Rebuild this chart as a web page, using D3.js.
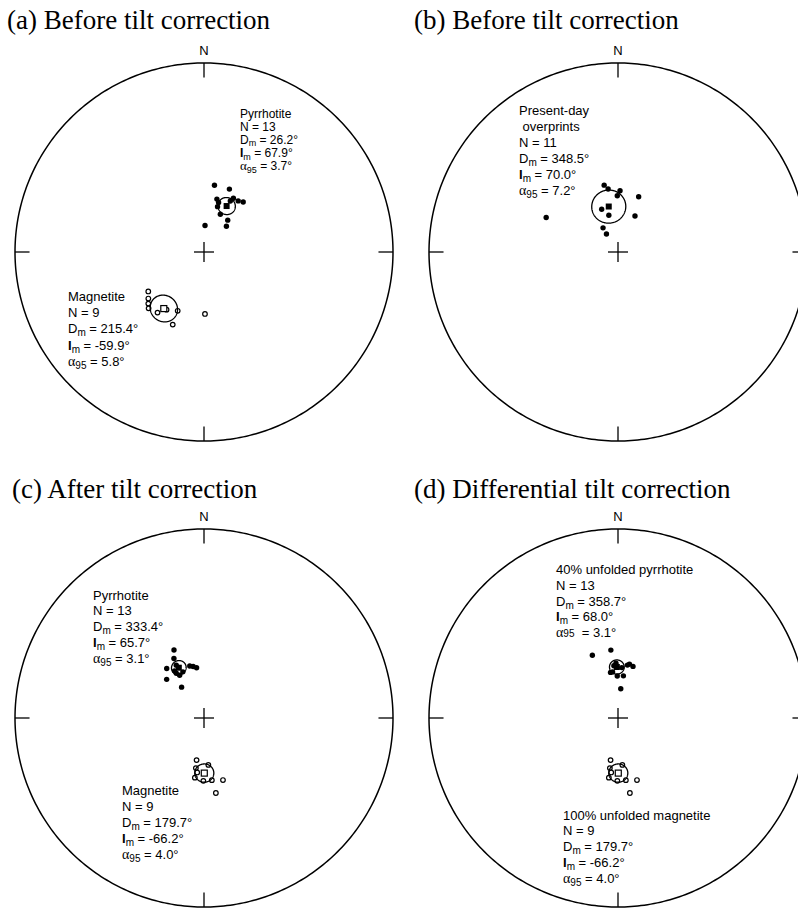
<!DOCTYPE html>
<html lang="en">
<head>
<meta charset="utf-8">
<title>Stereonets</title>
<script src="https://cdn.jsdelivr.net/npm/d3@7"></script>
<style>
  body { margin: 0; background: #fff; }
  .title { font-family: "Liberation Serif", "Times New Roman", serif; font-size: 27px; }
  .lab { font-family: "Liberation Sans", Arial, sans-serif; font-size: 13px; white-space: pre; }
</style>
</head>
<body>
<script>
// site directions, [declination, inclination] in degrees (negative inc = upper hemisphere)
var pyrA = [[8.9,60.7],[22.0,60.6],[13.7,66.5],[28.7,63.5],[33.8,63.4],[38.1,62.5],[16.6,69.6],
            [16.4,67.7],[23.4,72.3],[36.7,72.9],[41.0,75.3],[2.2,78.6],[27.3,65.2]];
var magA = [[234.7,-60.4],[230.1,-58.5],[227.2,-57.0],[224.5,-55.6],[217.5,-56.8],[213.0,-60.2],
            [204.1,-62.1],[203.3,-55.6],[179.1,-63.2]];
var presB = [[348.3,60.4],[351.1,62.4],[1.9,63.5],[359.3,65.7],[20.5,64.5],[339.1,70.3],[346.0,73.7],
             [25.3,72.9],[295.7,55.3],[328.2,77.8],[327.4,80.8]];
var pyrC = [[336.2,57.7],[333.2,61.1],[323.0,63.2],[332.3,64.2],[328.2,67.3],[330.3,68.8],[344.7,66.7],
            [351.6,68.1],[348.1,67.3],[316.0,66.8],[324.0,73.6],[335.4,68.1],[328.0,66.0]];
var magC = [[190.0,-71.6],[174.7,-69.7],[189.2,-68.1],[187.1,-66.3],[188.7,-63.9],[180.6,-62.8],
            [172.8,-62.9],[163.0,-61.9],[171.0,-57.0]];
var pyrD = [[337.8,60.6],[354.0,60.4],[355.5,67.4],[353.3,70.0],[359.0,71.9],[7.3,71.7],[10.1,66.8],
            [16.2,66.8],[5.4,77.4],[357.9,66.3],[350.7,70.1],[4.3,68.2],[12.0,66.2]];
var magD = magC; // 100% unfolded magnetite = after tilt correction

// means: [Dm, Im, a95, N]
var statPyrA = [26.2, 67.9, 3.7, 13];
var statMagA = [215.4, -59.9, 5.8, 9];
var statPresB = [348.5, 70.0, 7.2, 11];
var statPyrC = [333.4, 65.7, 3.1, 13];
var statMagC = [179.7, -66.2, 4.0, 9];
var statPyrD = [358.7, 68.0, 3.1, 13];
var statMagD = [179.7, -66.2, 4.0, 9];

var titles = ["(a) Before tilt correction", "(b) Before tilt correction",
              "(c) After tilt correction", "(d) Differential tilt correction"];

var w = 798, h = 909;
var R = 189;

var panels = [
  {cx: 204, cy: 252, tx: 7, ty: 29, sets: [
    {data: pyrA, st: statPyrA, fill: true, head: ["Pyrrhotite"], lx: 240, ly: 117.5, step: 13.2, fs: 12},
    {data: magA, st: statMagA, fill: false, head: ["Magnetite"], lx: 68, ly: 301, step: 16.2}]},
  {cx: 618, cy: 252, tx: 414, ty: 29, sets: [
    {data: presB, st: statPresB, fill: true, head: ["Present-day", " overprints"], lx: 519, ly: 115, step: 15.9}]},
  {cx: 204, cy: 718, tx: 12, ty: 498, sets: [
    {data: pyrC, st: statPyrC, fill: true, head: ["Pyrrhotite"], lx: 93, ly: 599.5, step: 15.8},
    {data: magC, st: statMagC, fill: false, head: ["Magnetite"], lx: 122, ly: 795, step: 16}]},
  {cx: 618, cy: 718, tx: 414, ty: 498, sets: [
    {data: pyrD, st: statPyrD, fill: true, head: ["40% unfolded pyrrhotite"], lx: 556, ly: 574, step: 15.8, plainAlpha: true},
    {data: magD, st: statMagD, fill: false, head: ["100% unfolded magnetite"], lx: 563, ly: 819.5, step: 15.8}]}
];

var svg = d3.select("body").append("svg")
  .attr("width", w).attr("height", h);

svg.append("rect").attr("width", w).attr("height", h).attr("fill", "#fff");

function lonlat(d) { return [180 - d[0], Math.abs(d[1])]; }

panels.forEach(function(p, i) {
  var proj = d3.geoAzimuthalEqualArea()
    .rotate([0, -90])
    .scale(R / Math.SQRT2)
    .translate([p.cx, p.cy]);
  var path = d3.geoPath(proj);
  var g = svg.append("g");

  svg.append("text").attr("class", "title")
    .attr("x", p.tx).attr("y", p.ty).text(titles[i]);

  // primitive circle
  g.append("path")
    .datum(d3.geoCircle().center([0, 90]).radius(90).precision(1)())
    .attr("d", path)
    .attr("fill", "none").attr("stroke", "#000").attr("stroke-width", 1.5);

  // N E S W ticks
  [0, 90, 180, 270].forEach(function(az) {
    var a = proj(lonlat([az, 0])), b = proj(lonlat([az, 8.5]));
    g.append("line").attr("x1", a[0]).attr("y1", a[1]).attr("x2", b[0]).attr("y2", b[1])
      .attr("stroke", "#000").attr("stroke-width", 1.3);
  });
  var top = proj(lonlat([0, 0]));
  g.append("text").attr("class", "lab").attr("x", top[0]).attr("y", top[1] - 8)
    .attr("text-anchor", "middle").text("N");

  // centre cross
  var c = proj([0, 90]);
  g.append("line").attr("x1", c[0] - 10).attr("x2", c[0] + 10).attr("y1", c[1]).attr("y2", c[1])
    .attr("stroke", "#000").attr("stroke-width", 1.3);
  g.append("line").attr("x1", c[0]).attr("x2", c[0]).attr("y1", c[1] - 10).attr("y2", c[1] + 10)
    .attr("stroke", "#000").attr("stroke-width", 1.3);

  p.sets.forEach(function(s) {
    g.selectAll(null).data(s.data).enter().append("circle")
      .attr("cx", function(d) { return proj(lonlat(d))[0]; })
      .attr("cy", function(d) { return proj(lonlat(d))[1]; })
      .attr("r", s.fill ? 2.7 : 2.3)
      .attr("fill", s.fill ? "#000" : "#fff")
      .attr("stroke", "#000").attr("stroke-width", s.fill ? 0 : 1.2);

    // alpha95 cone
    g.append("path")
      .datum(d3.geoCircle().center(lonlat(s.st)).radius(s.st[2])())
      .attr("d", path)
      .attr("fill", "none").attr("stroke", "#000").attr("stroke-width", 1.3);

    var m = proj(lonlat(s.st));
    g.append("rect").attr("x", m[0] - 3).attr("y", m[1] - 3).attr("width", 6).attr("height", 6)
      .attr("fill", s.fill ? "#000" : "#fff").attr("stroke", "#000").attr("stroke-width", s.fill ? 0 : 1.2);

    label(g, s);
  });
});

function label(g, s) {
  var st = s.st, fs = s.fs || 13;
  var sh = fs < 13 ? 2.5 : 3;
  var lines = s.head.map(function(t) { return [[t]]; });
  lines.push([["N = " + st[3]]]);
  lines.push([["D"], ["m", "sub"], [" = " + st[0].toFixed(1) + "°"]]);
  lines.push([["I", "bold"], ["m", "sub"], [" = " + st[1].toFixed(1) + "°"]]);
  if (s.plainAlpha) lines.push([["α", "greek"], ["95", "small"], ["  = " + st[2].toFixed(1) + "°"]]);
  else lines.push([["α", "greek"], ["95", "sub"], [" = " + st[2].toFixed(1) + "°"]]);

  lines.forEach(function(parts, i) {
    var t = g.append("text").attr("class", "lab")
      .style("font-size", fs + "px")
      .attr("x", s.lx).attr("y", s.ly + i * s.step);
    var down = false;
    parts.forEach(function(q) {
      var ts = t.append("tspan").text(q[0]);
      if (q[1] === "sub") { ts.attr("dy", sh).style("font-size", (fs - 3) + "px"); down = true; }
      else if (down) { ts.attr("dy", -sh); down = false; }
      if (q[1] === "bold") ts.attr("font-weight", "bold");
      if (q[1] === "greek") ts.attr("font-family", "Liberation Serif, serif").style("font-size", (fs + 1) + "px");
      if (q[1] === "small") ts.style("font-size", (fs - 3) + "px");
    });
  });
}
</script>
</body>
</html>
